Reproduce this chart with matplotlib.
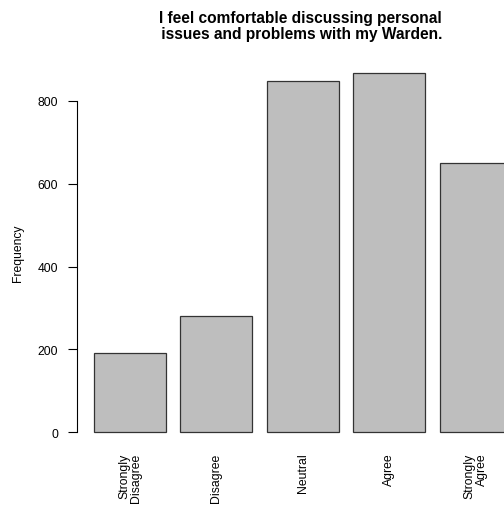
import matplotlib
matplotlib.use("Agg")
import matplotlib.pyplot as plt

categories = ["Strongly\nDisagree", "Disagree", "Neutral", "Agree", "Strongly\nAgree"]
values = [191, 280, 848, 868, 650]
yticks = [0, 200, 400, 600, 800]
title = "I feel comfortable discussing personal\n issues and problems with my Warden."

plt.rcParams['font.family'] = ['Liberation Sans', 'DejaVu Sans']

W, H = 504, 506
fig = plt.figure(figsize=(W/100, H/100), dpi=100)
left_px, right_px = 77, 504
bot_px, top_px = 447.4, 59.5
ax = fig.add_axes([left_px/W, (H-bot_px)/H, (right_px-left_px)/W, (bot_px-top_px)/H])

centers = [0.7 + 1.2*i for i in range(len(values))]
ax.bar(centers, values, width=1.0, color='#BEBEBE', edgecolor='#333333', linewidth=0.9)
ax.set_xlim(-0.036, 0.2 + (504-94)/72)
ax.set_ylim(-34.7, 902.7)

for s in ['top', 'right', 'bottom']:
    ax.spines[s].set_visible(False)
ax.spines['left'].set_bounds(0, 800)
ax.spines['left'].set_linewidth(0.8)
ax.set_yticks(yticks)
ax.set_yticklabels([str(v) for v in yticks], fontsize=8.7)
ax.tick_params(axis='y', length=6.5, width=0.8, pad=7.0)
ax.set_xticks(centers)
ax.set_xticklabels(categories, rotation=90, fontsize=8.8, ha='center', va='top',
                   multialignment='right', linespacing=1.0)
ax.tick_params(axis='x', length=0, pad=4.5)
ax.set_ylabel("Frequency", fontsize=8.7, labelpad=10)

fig.text(300/W, 1 - 11/H, title, ha='center', va='top', fontsize=11.2,
         fontweight='bold', linespacing=1.12)

fig.savefig("out.png", dpi=100)
